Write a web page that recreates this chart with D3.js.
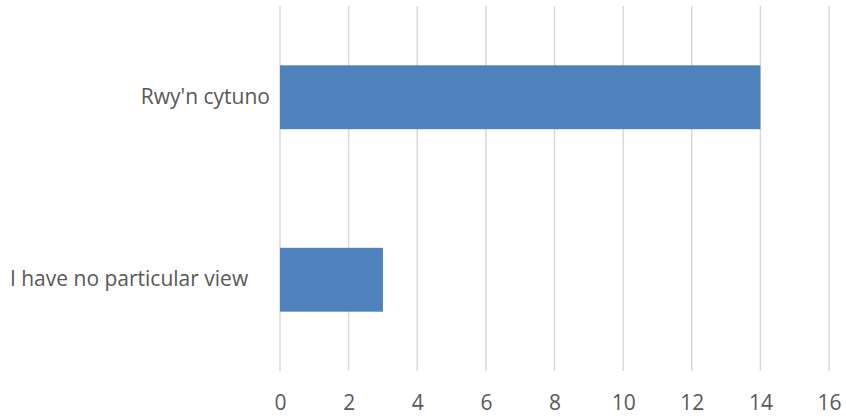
<!DOCTYPE html>
<html><head><meta charset="utf-8">
<script src="https://cdn.jsdelivr.net/npm/d3@7"></script>
<style>body{margin:0;background:#fff}svg{display:block}text{font-family:"Open Sans",sans-serif;fill:#595959}</style>
</head><body>
<svg id="c" width="846" height="417"></svg>
<script>
const categories = ["Rwy'n cytuno", "I have no particular view"];
const values = [14, 3];
const xTicks = [0, 2, 4, 6, 8, 10, 12, 14, 16];

const svg = d3.select("#c");
const m = {left: 280, right: 17, top: 6, bottom: 46};
const W = 846, H = 417;
const x = d3.scaleLinear().domain([0, 16]).range([m.left, W - m.right]);
const y = d3.scaleBand().domain(categories).range([m.top, H - m.bottom]).paddingInner(0.65).paddingOuter(0.325);

// gridlines
svg.append("g").selectAll("line").data(xTicks).join("line")
  .attr("x1", d => x(d)).attr("x2", d => x(d))
  .attr("y1", m.top).attr("y2", H - m.bottom)
  .attr("stroke", "#d9d9d9").attr("stroke-width", 1.5);

// bars
svg.append("g").selectAll("rect").data(categories).join("rect")
  .attr("x", x(0)).attr("y", d => y(d))
  .attr("width", (d, i) => x(values[i]) - x(0))
  .attr("height", y.bandwidth())
  .attr("fill", "#4f81bd");

// x axis labels
const xa = svg.append("g").attr("transform", `translate(0,${H - m.bottom})`)
  .call(d3.axisBottom(x).tickValues(xTicks).tickSize(0).tickPadding(24));
xa.select(".domain").remove();
xa.selectAll("text").attr("font-size", 21).attr("font-family", "Open Sans").attr("fill", "#595959");

// y axis labels
const ya = svg.append("g").attr("transform", `translate(${m.left},0)`)
  .call(d3.axisLeft(y).tickSize(0).tickPadding(10));
ya.select(".domain").remove();
ya.selectAll("text").attr("font-size", 21).attr("font-family", "Open Sans").attr("fill", "#595959")
  .text(d => d === "I have no particular view" ? d + "\u00a0\u00a0\u00a0\u00a0" : d);
</script>
</body></html>
